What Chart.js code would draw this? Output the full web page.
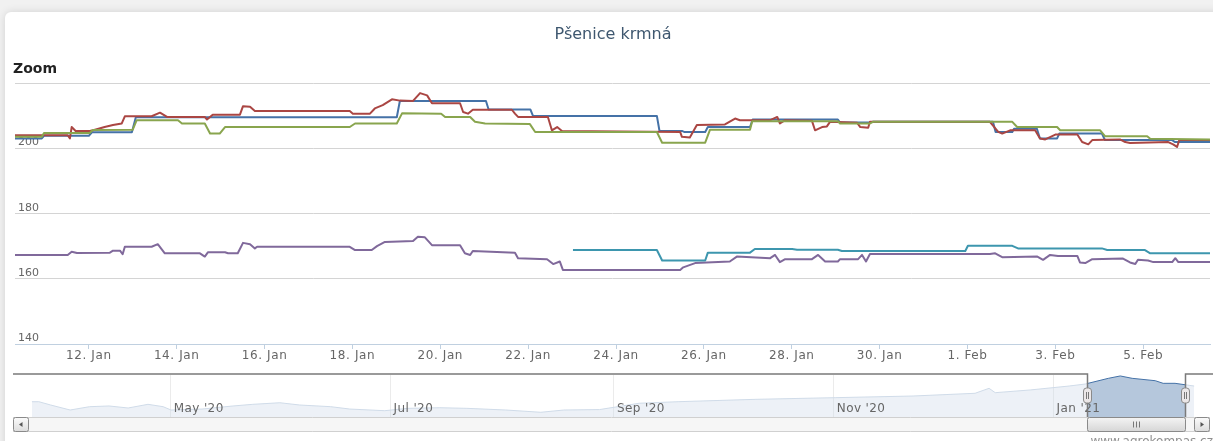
<!DOCTYPE html>
<html>
<head>
<meta charset="utf-8">
<title>Pšenice krmná</title>
<script src="https://cdn.jsdelivr.net/npm/chart.js@4.4.1/dist/chart.umd.min.js"></script>
<style>
  html, body { margin: 0; padding: 0; overflow: hidden; }
  body { width: 1213px; height: 441px; position: relative; background: #f1f1f1; }
  #card {
    position: absolute; left: 5px; top: 12px; width: 1240px; height: 470px;
    background: #fff; border-radius: 6px; box-shadow: 0 0 8px rgba(0, 0, 0, 0.13);
  }
  #mainChart { position: absolute; left: 0; top: 0; }
  #navChart { position: absolute; left: 0; top: 360px; }
</style>
</head>
<body>
<div id="card"></div>
<canvas id="mainChart" width="1213" height="370"></canvas>
<canvas id="navChart" width="1213" height="81"></canvas>
<script>
// x values are days counted from 1 Jan 2021 (0 = 1. Jan, 11 = 12. Jan, 31 = 1. Feb)
const chartTitle = 'Pšenice krmná';
const xTickDays = [11, 13, 15, 17, 19, 21, 23, 25, 27, 29, 31, 33, 35];
const xTickLabels = ['12. Jan', '14. Jan', '16. Jan', '18. Jan', '20. Jan', '22. Jan', '24. Jan',
  '26. Jan', '28. Jan', '30. Jan', '1. Feb', '3. Feb', '5. Feb'];
const yTickValues = [140, 160, 180, 200, 220];
const yLabelValues = [140, 160, 180, 200];
const viewMin = 9.32;
const viewMax = 36.52;

const blueSeries = [[9.32,203.0],[9.93,203.0],[9.98,203.8],[11.00,203.8],[11.07,204.9],[11.98,204.9],[12.07,209.5],
  [18.01,209.5],[18.08,214.5],[20.04,214.5],[20.10,211.9],[21.05,211.9],[21.11,209.9],[23.93,209.9],[23.99,205.3],
  [24.50,205.3],[24.55,205.0],[25.03,205.0],[25.09,206.5],[26.05,206.5],[26.11,208.8],[28.05,208.8],[28.10,207.9],
  [28.78,207.9],[28.85,208.1],[31.58,208.1],[31.64,205.0],[32.02,205.0],[32.06,206.0],[32.58,206.0],[32.65,203.0],
  [33.04,203.0],[33.09,204.5],[34.06,204.5],[34.13,202.5],[35.66,202.5],[35.72,201.9],[36.52,201.9]];

const redSeries = [[9.32,204.0],[10.52,204.0],[10.57,203.0],[10.61,206.5],[10.70,205.3],[11.02,205.3],[11.10,205.5],
  [11.36,206.5],[11.55,207.1],[11.75,207.6],[11.82,209.8],[12.43,209.8],[12.62,210.9],[12.78,209.6],[13.64,209.6],
  [13.69,208.8],[13.82,210.3],[14.44,210.3],[14.51,212.9],[14.67,212.7],[14.78,211.4],[16.94,211.4],[17.01,210.6],
  [17.40,210.6],[17.51,212.2],[17.69,213.2],[17.90,215.0],[18.08,214.6],[18.38,214.5],[18.54,216.9],[18.70,216.2],
  [18.81,213.8],[19.45,213.8],[19.52,211.1],[19.63,210.6],[19.74,211.8],[20.63,211.8],[20.70,210.6],[20.77,209.6],
  [21.45,209.6],[21.54,205.5],[21.66,206.5],[21.77,205.3],[24.46,205.0],[24.50,203.5],[24.68,203.3],[24.84,207.1],
  [25.48,207.3],[25.71,209.1],[25.82,208.6],[26.51,208.6],[26.67,209.6],[26.73,207.6],[26.85,208.6],[27.46,208.4],
  [27.53,205.5],[27.69,206.5],[27.80,206.7],[27.87,208.1],[28.49,207.8],[28.56,206.5],[28.74,206.3],[28.78,208.1],
  [31.51,208.1],[31.70,205.0],[31.79,204.5],[31.97,205.5],[32.54,205.5],[32.65,203.0],[32.77,202.7],[33.00,204.2],
  [33.50,204.2],[33.61,201.9],[33.75,201.2],[33.84,202.5],[34.47,202.7],[34.59,201.9],[34.70,201.6],[35.57,201.9],
  [35.68,201.2],[35.77,200.4],[35.82,202.5],[36.52,202.5]];

const greenSeries = [[9.32,203.5],[9.93,203.5],[9.98,204.7],[11.02,204.7],[11.09,205.6],[12.00,205.7],[12.09,208.6],
  [13.03,208.6],[13.12,207.6],[13.64,207.6],[13.76,204.5],[13.98,204.5],[14.10,206.5],[16.94,206.5],[17.06,207.6],
  [18.01,207.6],[18.13,210.7],[19.02,210.6],[19.11,209.6],[19.68,209.6],[19.79,208.1],[20.02,207.6],[21.04,207.4],
  [21.16,205.0],[23.93,205.0],[24.05,201.7],[25.03,201.7],[25.14,205.7],[26.05,205.7],[26.10,208.3],[28.05,208.3],
  [28.10,207.6],[28.78,207.6],[28.85,208.1],[32.02,208.1],[32.13,206.5],[33.04,206.5],[33.11,205.5],[34.02,205.5],
  [34.13,203.7],[35.09,203.7],[35.16,202.9],[36.52,202.7]];

const purpleSeries = [[9.32,167.3],[10.52,167.3],[10.61,168.3],[10.73,167.9],[11.48,168.0],[11.55,168.6],[11.71,168.6],
  [11.77,167.5],[11.82,169.8],[12.43,169.8],[12.57,170.6],[12.73,167.8],[13.53,167.8],[13.64,166.8],[13.71,168.1],
  [14.10,168.1],[14.17,167.8],[14.39,167.8],[14.51,171.0],[14.67,170.6],[14.78,169.3],[14.83,169.8],[16.94,169.8],
  [17.06,168.8],[17.44,168.8],[17.56,170.0],[17.74,171.3],[18.38,171.6],[18.49,172.9],[18.65,172.7],[18.81,170.3],
  [19.45,170.3],[19.56,167.8],[19.68,167.3],[19.74,168.5],[20.70,168.0],[20.77,166.3],[21.43,166.0],[21.57,164.5],
  [21.72,165.3],[21.79,162.7],[24.46,162.7],[24.53,163.5],[24.80,164.8],[25.59,165.3],[25.75,166.8],[26.51,166.3],
  [26.62,167.3],[26.73,165.1],[26.85,166.0],[27.46,166.0],[27.60,167.3],[27.76,165.3],[28.05,165.3],[28.10,166.0],
  [28.51,166.0],[28.60,167.3],[28.69,165.3],[28.78,167.6],[31.51,167.6],[31.63,167.8],[31.79,166.6],[32.59,166.8],
  [32.72,165.8],[32.88,167.3],[33.06,167.0],[33.50,167.0],[33.56,165.0],[33.68,164.8],[33.84,166.0],[34.54,166.2],
  [34.70,165.0],[34.82,164.5],[34.88,165.8],[35.11,165.6],[35.23,165.1],[35.66,165.1],[35.73,166.3],[35.80,165.1],
  [36.52,165.1]];

const tealSeries = [[22.02,168.8],[23.93,168.8],[24.05,165.6],[25.03,165.6],[25.09,168.0],[26.05,168.0],[26.16,169.1],
  [27.01,169.1],[27.12,168.9],[28.05,168.9],[28.14,168.5],[30.95,168.5],[31.01,170.1],[32.02,170.1],[32.15,169.3],
  [34.06,169.3],[34.18,168.8],[35.04,168.8],[35.16,167.8],[36.52,167.8]];

// navigator: whole history, same day units
const navTickDays = [-245, -184, -122, -61, 0];
const navTickLabels = ["May '20", "Jul '20", "Sep '20", "Nov '20", "Jan '21"];
const navMin = -288.2;
const navMax = 43.4;
const navSeries = [[-283.5,185.5],[-281.6,185.5],[-278.3,181.7],[-272.9,176.0],[-267.5,179.8],[-262.1,180.6],
  [-256.8,178.3],[-251.3,182.5],[-247.1,179.8],[-244.9,176.0],[-236.3,177.1],[-227.7,180.6],[-222.2,182.5],
  [-214.7,184.3],[-209.2,181.7],[-200.6,179.8],[-195.3,177.1],[-185.6,175.2],[-179.2,177.9],[-170.3,178.6],
  [-162.8,177.9],[-152.0,176.0],[-142.3,173.4],[-135.9,176.0],[-126.0,176.5],[-115.0,183.7],[-104.2,185.5],
  [-82.6,188.2],[-60.6,190.1],[-39.0,192.0],[-21.8,195.1],[-17.9,200.8],[-16.2,195.8],[-6.5,198.9],[4.3,203.4],
  [8.8,205.7],[15.2,212.2],[18.5,214.9],[21.8,212.2],[28.2,209.5],[30.4,206.5],[33.7,206.5],[39.0,203.4]];

const FONT = '"DejaVu Sans", Verdana, sans-serif';
const toPoints = arr => arr.map(p => ({ x: p[0], y: p[1] }));

function lineSet(data, color, order) {
  return {
    data: toPoints(data),
    borderColor: color,
    borderWidth: 2,
    borderJoinStyle: 'round',
    pointRadius: 0,
    tension: 0,
    fill: false,
    order: order
  };
}

const mainDecor = {
  id: 'mainDecor',
  beforeDraw(chart) {
    // the original axis font runs wider, so loosen the tick labels a bit
    chart.ctx.letterSpacing = '0.6px';
  },
  beforeDatasetsDraw(chart) {
    const { ctx, chartArea, scales } = chart;
    ctx.letterSpacing = '0px';
    ctx.save();
    ctx.font = '11px ' + FONT;
    ctx.fillStyle = '#666';
    ctx.textAlign = 'left';
    ctx.textBaseline = 'alphabetic';
    yLabelValues.forEach(v => {
      ctx.fillText(String(v), chartArea.left + 3, scales.y.getPixelForValue(v) - 3);
    });
    ctx.restore();
  },
  afterDraw(chart) {
    const ctx = chart.ctx;
    ctx.save();
    ctx.font = '16px ' + FONT;
    ctx.fillStyle = '#3E576F';
    ctx.textAlign = 'center';
    ctx.fillText(chartTitle, 613, 39);
    ctx.font = 'bold 14px ' + FONT;
    ctx.fillStyle = '#222';
    ctx.textAlign = 'left';
    ctx.fillText('Zoom', 13, 73);
    ctx.restore();
  }
};

const mainChart = new Chart(document.getElementById('mainChart'), {
  type: 'line',
  data: {
    datasets: [
      lineSet(blueSeries, '#4572A7', 5),
      lineSet(redSeries, '#AA4643', 4),
      lineSet(greenSeries, '#89A54E', 3),
      lineSet(purpleSeries, '#80699B', 2),
      lineSet(tealSeries, '#3D96AE', 1)
    ]
  },
  options: {
    responsive: false,
    animation: false,
    layout: { padding: { left: 15, right: 3, top: 83, bottom: 0 } },
    plugins: { legend: { display: false }, tooltip: { enabled: false } },
    scales: {
      x: {
        type: 'linear',
        min: viewMin,
        max: viewMax,
        afterBuildTicks: s => { s.ticks = xTickDays.map(v => ({ value: v })); },
        afterFit: s => { s.height = 26; },
        grid: { drawOnChartArea: false, color: '#C0D0E0', tickLength: 5 },
        border: { color: '#C0D0E0', width: 1 },
        ticks: {
          autoSkip: false,
          maxRotation: 0,
          padding: 0,
          color: '#666',
          font: { family: FONT, size: 12 },
          callback: (v, i) => xTickLabels[i]
        }
      },
      y: {
        min: 140,
        max: 220,
        afterBuildTicks: s => { s.ticks = yTickValues.map(v => ({ value: v })); },
        afterFit: s => { s.width = 0; },
        grid: { color: '#d4d4d4', drawTicks: false },
        border: { display: false },
        ticks: { display: false }
      }
    }
  },
  plugins: [mainDecor]
});

const navDecor = {
  id: 'navDecor',
  afterDatasetsDraw(chart) {
    const { ctx, chartArea: a, scales } = chart;
    const x0 = Math.round(scales.x.getPixelForValue(viewMin));
    const x1 = Math.round(scales.x.getPixelForValue(viewMax));
    ctx.save();
    // mask outside the selected range
    ctx.fillStyle = 'rgba(255,255,255,0.75)';
    ctx.fillRect(a.left, a.top, x0 - a.left, a.bottom - a.top);
    ctx.fillRect(x1, a.top, a.right - x1, a.bottom - a.top);

    // month labels
    ctx.font = '12px ' + FONT;
    ctx.letterSpacing = '0.4px';
    ctx.fillStyle = '#666';
    ctx.textAlign = 'left';
    navTickDays.forEach((d, i) => {
      ctx.fillText(navTickLabels[i], scales.x.getPixelForValue(d) + 3, a.bottom - 5);
    });
    ctx.letterSpacing = '0px';

    // scrollbar track
    const sTop = a.bottom + 0.5, sBot = a.bottom + 14.5;
    ctx.fillStyle = '#f6f6f6';
    ctx.fillRect(13, sTop, 1197, sBot - sTop);
    ctx.strokeStyle = '#d0d0d0';
    ctx.lineWidth = 1;
    ctx.beginPath();
    ctx.moveTo(13, sTop); ctx.lineTo(1210, sTop);
    ctx.moveTo(13, sBot); ctx.lineTo(1210, sBot);
    ctx.stroke();

    const button = (bx, dir) => {
      const g = ctx.createLinearGradient(0, sTop, 0, sBot);
      g.addColorStop(0, '#fbfbfb');
      g.addColorStop(1, '#dcdcdc');
      ctx.fillStyle = g;
      ctx.strokeStyle = '#8a8a8a';
      ctx.beginPath();
      ctx.roundRect(bx + 0.5, sTop, 15, sBot - sTop, 2);
      ctx.fill();
      ctx.stroke();
      const cx = bx + 8, cy = (sTop + sBot) / 2;
      ctx.fillStyle = '#555';
      ctx.beginPath();
      ctx.moveTo(cx - 2 * dir, cy);
      ctx.lineTo(cx + 1.5 * dir, cy - 2.5);
      ctx.lineTo(cx + 1.5 * dir, cy + 2.5);
      ctx.closePath();
      ctx.fill();
    };
    button(13, 1);
    button(1194, -1);

    // scrollbar thumb
    const tg = ctx.createLinearGradient(0, sTop, 0, sBot);
    tg.addColorStop(0, '#f4f4f4');
    tg.addColorStop(1, '#d6d6d6');
    ctx.fillStyle = tg;
    ctx.strokeStyle = '#8a8a8a';
    ctx.beginPath();
    ctx.roundRect(x0 + 0.5, sTop, x1 - x0, sBot - sTop, 2);
    ctx.fill();
    ctx.stroke();
    const mid = Math.round((x0 + x1) / 2) + 0.5;
    ctx.strokeStyle = '#777';
    ctx.beginPath();
    [-3, 0, 3].forEach(o => { ctx.moveTo(mid + o, sTop + 4); ctx.lineTo(mid + o, sBot - 4); });
    ctx.stroke();

    // outline around the selection
    const oy = a.top - 1;
    ctx.strokeStyle = '#7a7a7a';
    ctx.lineWidth = 1.5;
    ctx.beginPath();
    ctx.moveTo(a.left - 2, oy);
    ctx.lineTo(x0 + 0.5, oy);
    ctx.lineTo(x0 + 0.5, a.bottom);
    ctx.moveTo(x1 + 0.5, a.bottom);
    ctx.lineTo(x1 + 0.5, oy);
    ctx.lineTo(a.right + 3, oy);
    ctx.stroke();

    // handles
    ctx.lineWidth = 1;
    [x0, x1].forEach(hx => {
      const hy = (a.top + a.bottom) / 2 - 8;
      ctx.fillStyle = '#ebe7e8';
      ctx.strokeStyle = '#8a8a8a';
      ctx.beginPath();
      ctx.roundRect(hx - 3.5, hy, 8, 15, 3);
      ctx.fill();
      ctx.stroke();
      ctx.strokeStyle = '#777';
      ctx.beginPath();
      ctx.moveTo(hx - 0.5, hy + 4); ctx.lineTo(hx - 0.5, hy + 11);
      ctx.moveTo(hx + 1.5, hy + 4); ctx.lineTo(hx + 1.5, hy + 11);
      ctx.stroke();
    });

    // credits
    ctx.font = '12px ' + FONT;
    ctx.fillStyle = '#909090';
    ctx.textAlign = 'right';
    ctx.fillText('www.agrokompas.cz', 1213, 85);
    ctx.restore();
  }
};

const navChart = new Chart(document.getElementById('navChart'), {
  type: 'line',
  data: {
    datasets: [{
      data: toPoints(navSeries),
      borderColor: '#4572A7',
      borderWidth: 1,
      backgroundColor: 'rgba(69,114,167,0.4)',
      fill: 'start',
      pointRadius: 0,
      tension: 0
    }]
  },
  options: {
    responsive: false,
    animation: false,
    layout: { padding: { left: 15, right: 3, top: 15, bottom: 24 } },
    plugins: { legend: { display: false }, tooltip: { enabled: false } },
    scales: {
      x: {
        type: 'linear',
        min: navMin,
        max: navMax,
        afterBuildTicks: s => { s.ticks = navTickDays.map(v => ({ value: v })); },
        afterFit: s => { s.height = 0; },
        grid: { color: '#b0b0b0', drawTicks: false },
        border: { display: false },
        ticks: { display: false }
      },
      y: {
        display: false,
        min: 168,
        max: 216
      }
    }
  },
  plugins: [navDecor]
});
</script>
</body>
</html>
